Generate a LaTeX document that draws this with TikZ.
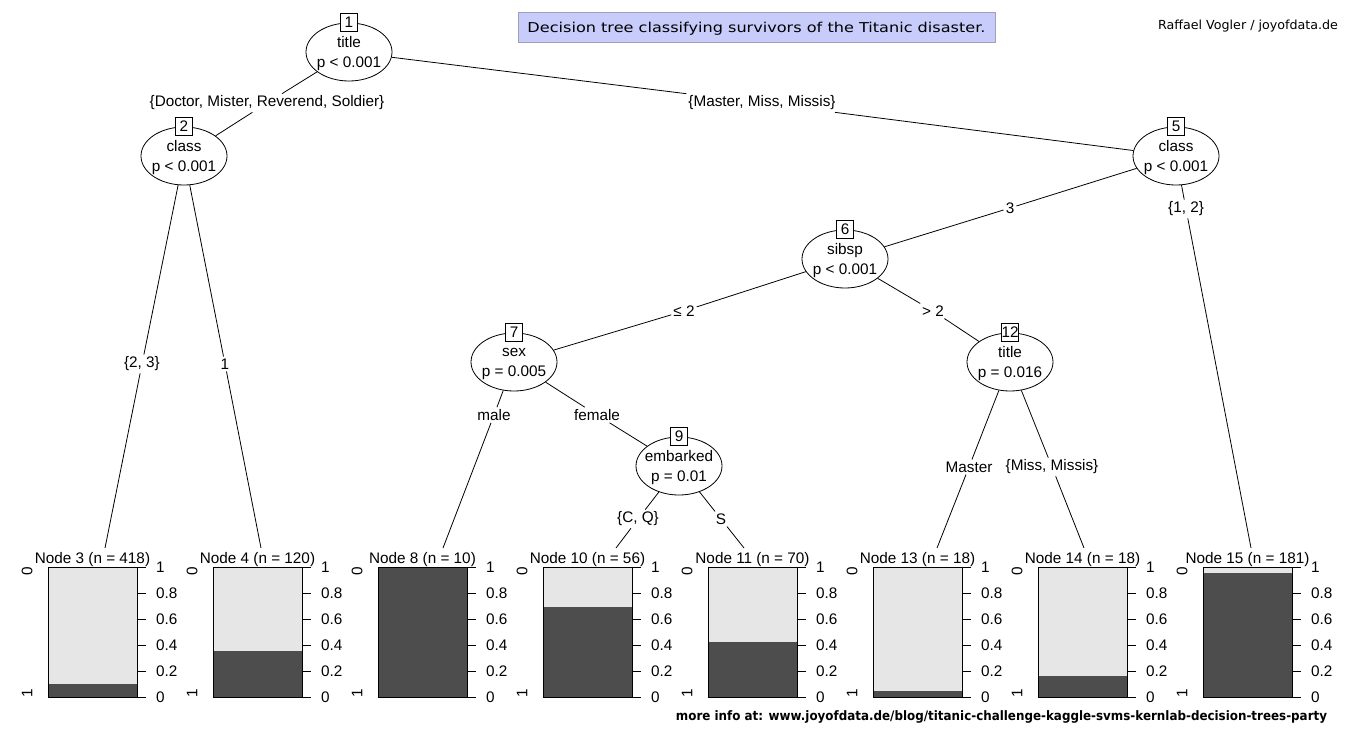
\documentclass[tikz,border=0pt]{standalone}
\usepackage{fontspec}
\setmainfont{Liberation Sans}
\newfontfamily\dejavu{DejaVu Sans}
\usetikzlibrary{shapes.geometric}
\definecolor{lightbar}{RGB}{230,230,230}
\definecolor{darkbar}{RGB}{77,77,77}
\definecolor{titlefill}{RGB}{199,204,250}
\definecolor{titleborder}{RGB}{160,160,180}
\begin{document}
\begin{tikzpicture}[x=1pt,y=-1pt,
  every node/.style={font=\fontsize{15.3}{20}\selectfont},
  split/.style={draw, ellipse, fill=white, minimum width=86pt, minimum height=58pt, inner sep=0pt, line width=0.8pt},
  splittext/.style={align=center, yshift=-2pt},
  numbox/.style={draw, fill=white, inner sep=0pt, minimum width=17pt, minimum height=18pt, line width=0.8pt},
  elabel/.style={inner sep=2pt},
  conn/.style={line width=0.8pt},
  tick/.style={line width=0.8pt}
]
\useasboundingbox (0,0) rectangle (1360,746);

% title and credits
\node[draw=titleborder, fill=titlefill, minimum width=477pt, minimum height=30pt, inner sep=0pt, line width=0.8pt] (titlebox) at (756.5,27) {};
\node[anchor=base, inner sep=0pt] (titletext) at (756.5,33) {\resizebox{458pt}{\height}{\dejavu\fontsize{13.6}{16}\selectfont Decision tree classifying survivors of the Titanic disaster.}};
\node[anchor=base, inner sep=0pt] (credit) at (1248,29.5) {\resizebox{180pt}{\height}{\dejavu\fontsize{12.5}{15}\selectfont Raffael Vogler / joyofdata.de}};
\node[anchor=base, inner sep=0pt] (moreinfo) at (1001.5,720) {\resizebox{651pt}{\height}{\dejavu\bfseries\fontsize{13}{15}\selectfont more info at: www.joyofdata.de/blog/titanic-challenge-kaggle-svms-kernlab-decision-trees-party}};

% inner nodes
\node[split] (n1) at (349,52) {};
\node[split] (n2) at (184,156) {};
\node[split] (n5) at (1176,156) {};
\node[split] (n6) at (845,259) {};
\node[split] (n7) at (514,362) {};
\node[split] (n9) at (679,466) {};
\node[split] (n12) at (1010,362) {};

\node[splittext] (t1) at (n1) {title\\p < 0.001};
\node[splittext] (t2) at (n2) {class\\p < 0.001};
\node[splittext] (t5) at (n5) {class\\p < 0.001};
\node[splittext] (t6) at (n6) {sibsp\\p < 0.001};
\node[splittext] (t7) at (n7) {sex\\p = 0.005};
\node[splittext] (t9) at (n9) {embarked\\p = 0.01};
\node[splittext] (t12) at (n12) {title\\p = 0.016};

\node[numbox] (b1) at (n1.north) {1};
\node[numbox] (b2) at (n2.north) {2};
\node[numbox] (b5) at (n5.north) {5};
\node[numbox] (b6) at (n6.north) {6};
\node[numbox] (b7) at (n7.north) {7};
\node[numbox] (b9) at (n9.north) {9};
\node[numbox] (b12) at (n12.north) {12};

% edge labels
\node[elabel] (l2) at (267,103) {\{Doctor, Mister, Reverend, Soldier\}};
\node[elabel] (l5) at (762,103) {\{Master, Miss, Missis\}};
\node[elabel] (l3) at (142,364) {\{2, 3\}};
\node[elabel] (l4) at (225,364) {1};
\node[elabel] (l6) at (1010,208) {3};
\node[elabel] (l15) at (1186,209) {\{1, 2\}};
\node[elabel] (l7) at (684,311) {≤ 2};
\node[elabel] (l12) at (933,311) {> 2};
\node[elabel] (l8) at (494,415) {male};
\node[elabel] (l9) at (597,415) {female};
\node[elabel] (l13) at (969,467) {Master};
\node[elabel] (l14) at (1052,467) {\{Miss, Missis\}};
\node[elabel] (l10) at (638,519) {\{C, Q\}};
\node[elabel] (l11) at (721,519) {S};

% terminal edge ends
\coordinate (e3) at (105,548);
\coordinate (e4) at (261,548);
\coordinate (e8) at (443,548);
\coordinate (e10) at (616,548);
\coordinate (e11) at (744,548);
\coordinate (e13) at (937,548);
\coordinate (e14) at (1084,548);
\coordinate (e15) at (1251,548);

% connectors
\draw[conn] (n1) -- (l2) -- (n2);
\draw[conn] (n1) -- (l5) -- (n5);
\draw[conn] (n2) -- (l3) -- (e3);
\draw[conn] (n2) -- (l4) -- (e4);
\draw[conn] (n5) -- (l6) -- (n6);
\draw[conn] (n5) -- (l15) -- (e15);
\draw[conn] (n6) -- (l7) -- (n7);
\draw[conn] (n6) -- (l12) -- (n12);
\draw[conn] (n7) -- (l8) -- (e8);
\draw[conn] (n7) -- (l9) -- (n9);
\draw[conn] (n9) -- (l10) -- (e10);
\draw[conn] (n9) -- (l11) -- (e11);
\draw[conn] (n12) -- (l13) -- (e13);
\draw[conn] (n12) -- (l14) -- (e14);

% terminal panels
\foreach \i/\L/\f/\lab in {3/48/0.10/{Node 3 (n = 418)},4/213/0.354/{Node 4 (n = 120)},8/378/1.0/{Node 8 (n = 10)},10/543/0.69/{Node 10 (n = 56)},11/708/0.42/{Node 11 (n = 70)},13/873/0.046/{Node 13 (n = 18)},14/1038/0.16/{Node 14 (n = 18)},15/1203/0.954/{Node 15 (n = 181)}}{
  \pgfmathsetmacro\R{\L+89}
  \pgfmathsetmacro\ytop{697-130*\f}
  \fill[lightbar] (\L,567) rectangle (\R,697);
  \fill[darkbar] (\L,\ytop) rectangle (\R,697);
  \draw[line width=0.8pt] (\L,567) rectangle (\R,697);
  \foreach \v/\t in {0/0,0.2/0.2,0.4/0.4,0.6/0.6,0.8/0.8,1/1}{
    \pgfmathsetmacro\yy{697-130*\v}
    \draw[tick] (\R,\yy) -- ({\R+9},\yy);
    \node[anchor=west, inner sep=0pt] at ({\R+19},\yy) {\t};
  }
  \node[rotate=90, inner sep=0pt] (z\i) at ({\L-21},571) {0};
  \node[rotate=90, inner sep=0pt] (o\i) at ({\L-21},693) {1};
  \node[anchor=base, inner sep=0pt] (hd\i) at ({\L+44.5},563) {\lab};
}
\end{tikzpicture}
\end{document}
